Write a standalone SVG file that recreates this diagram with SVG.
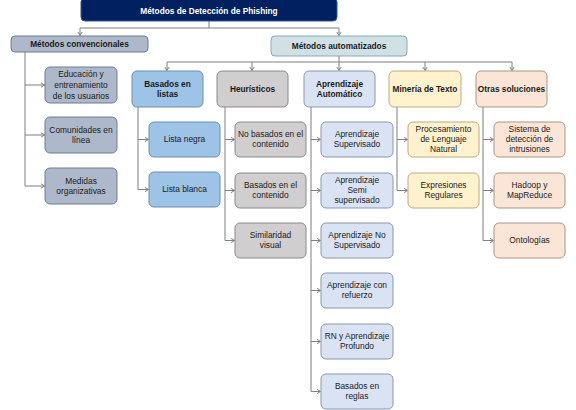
<svg xmlns="http://www.w3.org/2000/svg" width="576" height="410" viewBox="0 0 576 410">
<defs>
<marker id="ar" markerWidth="6" markerHeight="6" refX="4.5" refY="3" orient="auto" markerUnits="userSpaceOnUse">
<path d="M1,0.8 L4.5,3 L1,5.2" fill="none" stroke="#7f7f7f" stroke-width="1"/>
</marker>
</defs>
<style>
text{font-family:"Liberation Sans",Arial,sans-serif;font-size:8.4px;fill:#1a1a1a;text-anchor:middle}
.b{font-weight:bold;font-size:8.3px}
.w{fill:#ffffff}
rect{stroke-width:1}
.title{fill:#002060;stroke:#2f5597}
.conv{fill:#adb9ca;stroke:#6f7d91}
.auto{fill:#d0e1e5;stroke:#8aa7bd}
.lst{fill:#9dc3e6;stroke:#6d8fb0}
.heu{fill:#d0cece;stroke:#8a8888}
.ml{fill:#dae3f3;stroke:#8a97ad}
.tm{fill:#fff2cc;stroke:#b8ab86}
.ot{fill:#fbe5d6;stroke:#a99585}
.c line,.c path{stroke:#7f7f7f;stroke-width:1;fill:none}
</style>

<g id="connectors" class="c">
<path d="M209,21 V28"/>
<path d="M80,28 H339"/>
<line x1="80" y1="28" x2="80" y2="35.5" marker-end="url(#ar)"/>
<line x1="339" y1="28" x2="339" y2="35.5" marker-end="url(#ar)"/>
<path d="M25,52 V186"/>
<line x1="25" y1="85" x2="44.5" y2="85" marker-end="url(#ar)"/>
<line x1="25" y1="135" x2="44.5" y2="135" marker-end="url(#ar)"/>
<line x1="25" y1="186" x2="44.5" y2="186" marker-end="url(#ar)"/>
<path d="M339,56 V62"/>
<path d="M167,62 H512"/>
<line x1="167" y1="62" x2="167" y2="70.5" marker-end="url(#ar)"/>
<line x1="252" y1="62" x2="252" y2="70.5" marker-end="url(#ar)"/>
<line x1="339" y1="62" x2="339" y2="70.5" marker-end="url(#ar)"/>
<line x1="425" y1="62" x2="425" y2="70.5" marker-end="url(#ar)"/>
<line x1="512" y1="62" x2="512" y2="70.5" marker-end="url(#ar)"/>
<path d="M138,107 V189.5"/>
<line x1="138" y1="139.5" x2="148.5" y2="139.5" marker-end="url(#ar)"/>
<line x1="138" y1="189.5" x2="148.5" y2="189.5" marker-end="url(#ar)"/>
<path d="M225,107 V240.5"/>
<line x1="225" y1="139.5" x2="234.5" y2="139.5" marker-end="url(#ar)"/>
<line x1="225" y1="190.5" x2="234.5" y2="190.5" marker-end="url(#ar)"/>
<line x1="225" y1="240.5" x2="234.5" y2="240.5" marker-end="url(#ar)"/>
<path d="M311,107 V391.5"/>
<line x1="311" y1="139.5" x2="320.5" y2="139.5" marker-end="url(#ar)"/>
<line x1="311" y1="190.5" x2="320.5" y2="190.5" marker-end="url(#ar)"/>
<line x1="311" y1="240.5" x2="320.5" y2="240.5" marker-end="url(#ar)"/>
<line x1="311" y1="290.5" x2="320.5" y2="290.5" marker-end="url(#ar)"/>
<line x1="311" y1="341.5" x2="320.5" y2="341.5" marker-end="url(#ar)"/>
<line x1="311" y1="391.5" x2="320.5" y2="391.5" marker-end="url(#ar)"/>
<path d="M397,107 V190.5"/>
<line x1="397" y1="139.5" x2="407.5" y2="139.5" marker-end="url(#ar)"/>
<line x1="397" y1="190.5" x2="407.5" y2="190.5" marker-end="url(#ar)"/>
<path d="M483,107 V240.5"/>
<line x1="483" y1="139.5" x2="493.5" y2="139.5" marker-end="url(#ar)"/>
<line x1="483" y1="190.5" x2="493.5" y2="190.5" marker-end="url(#ar)"/>
<line x1="483" y1="240.5" x2="493.5" y2="240.5" marker-end="url(#ar)"/>
</g>

<g id="n-title"><rect class="title" x="81" y="-2" width="256" height="23" rx="4"/><text class="b w" x="209" y="13.5">Métodos de Detección de Phishing</text></g>

<g id="n-conv"><rect class="conv" x="11" y="36" width="137" height="16" rx="4"/><text class="b" x="79.5" y="47">Métodos convencionales</text></g>
<g id="n-auto"><rect class="auto" x="271" y="36" width="136" height="20" rx="4"/><text class="b" x="339" y="49">Métodos automatizados</text></g>

<g id="n-edu"><rect class="conv" x="45" y="67" width="72" height="36" rx="5"/><text x="81"><tspan x="81" y="76.9">Educación y</tspan><tspan x="81" y="87.9">entrenamiento</tspan><tspan x="81" y="98.9">de los usuarios</tspan></text></g>
<g id="n-com"><rect class="conv" x="45" y="117" width="72" height="36" rx="5"/><text x="81"><tspan x="81" y="132.6">Comunidades en</tspan><tspan x="81" y="143.1">línea</tspan></text></g>
<g id="n-med"><rect class="conv" x="45" y="168" width="72" height="36" rx="5"/><text x="81"><tspan x="81" y="183.6">Medidas</tspan><tspan x="81" y="194.1">organizativas</tspan></text></g>

<g id="n-lst"><rect class="lst" x="132" y="71" width="71" height="36" rx="5"/><text class="b" x="167.5"><tspan x="167.5" y="86.9">Basados en</tspan><tspan x="167.5" y="96.9">listas</tspan></text></g>
<g id="n-heu"><rect class="heu" x="217" y="71" width="71" height="36" rx="5"/><text class="b" x="252.5" y="91.9">Heurísticos</text></g>
<g id="n-ml"><rect class="ml" x="304" y="71" width="71" height="36" rx="5"/><text class="b" x="339.5"><tspan x="339.5" y="86.9">Aprendizaje</tspan><tspan x="339.5" y="96.9">Automático</tspan></text></g>
<g id="n-tm"><rect class="tm" x="389" y="71" width="72" height="36" rx="5"/><text class="b" x="425" y="91.9">Minería de Texto</text></g>
<g id="n-ot"><rect class="ot" x="476" y="71" width="71" height="36" rx="5"/><text class="b" x="511.5" y="91.9">Otras soluciones</text></g>

<g id="n-negra"><rect class="lst" x="149" y="122" width="71" height="35" rx="5"/><text x="184.5" y="142.4">Lista negra</text></g>
<g id="n-blanca"><rect class="lst" x="149" y="172" width="71" height="35" rx="5"/><text x="184.5" y="192.4">Lista blanca</text></g>

<g id="n-nobas"><rect class="heu" x="235" y="122" width="71" height="35" rx="5"/><text x="270.5"><tspan x="270.5" y="137.4">No basados en el</tspan><tspan x="270.5" y="147.4">contenido</tspan></text></g>
<g id="n-bas"><rect class="heu" x="235" y="173" width="71" height="35" rx="5"/><text x="270.5"><tspan x="270.5" y="188.4">Basados en el</tspan><tspan x="270.5" y="198.4">contenido</tspan></text></g>
<g id="n-sim"><rect class="heu" x="235" y="223" width="71" height="35" rx="5"/><text x="270.5"><tspan x="270.5" y="238.4">Similaridad</tspan><tspan x="270.5" y="248.4">visual</tspan></text></g>

<g id="n-sup"><rect class="ml" x="321" y="122" width="72" height="35" rx="5"/><text x="357"><tspan x="357" y="137.4">Aprendizaje</tspan><tspan x="357" y="147.4">Supervisado</tspan></text></g>
<g id="n-semi"><rect class="ml" x="321" y="173" width="72" height="35" rx="5"/><text x="357"><tspan x="357" y="183.4">Aprendizaje</tspan><tspan x="357" y="193.4">Semi</tspan><tspan x="357" y="203.4">supervisado</tspan></text></g>
<g id="n-nosup"><rect class="ml" x="321" y="223" width="72" height="35" rx="5"/><text x="357"><tspan x="357" y="238.4">Aprendizaje No</tspan><tspan x="357" y="248.4">Supervisado</tspan></text></g>
<g id="n-ref"><rect class="ml" x="321" y="273" width="72" height="35" rx="5"/><text x="357"><tspan x="357" y="288.4">Aprendizaje con</tspan><tspan x="357" y="298.4">refuerzo</tspan></text></g>
<g id="n-rn"><rect class="ml" x="321" y="324" width="72" height="35" rx="5"/><text x="357"><tspan x="357" y="339.4">RN y Aprendizaje</tspan><tspan x="357" y="349.4">Profundo</tspan></text></g>
<g id="n-reg"><rect class="ml" x="321" y="374" width="72" height="35" rx="5"/><text x="357"><tspan x="357" y="389.4">Basados en</tspan><tspan x="357" y="399.4">reglas</tspan></text></g>

<g id="n-pln"><rect class="tm" x="408" y="122" width="71" height="35" rx="5"/><text x="443.5"><tspan x="443.5" y="132.4">Procesamiento</tspan><tspan x="443.5" y="142.4">de Lenguaje</tspan><tspan x="443.5" y="152.4">Natural</tspan></text></g>
<g id="n-exp"><rect class="tm" x="408" y="173" width="71" height="35" rx="5"/><text x="443.5"><tspan x="443.5" y="188.4">Expresiones</tspan><tspan x="443.5" y="198.4">Regulares</tspan></text></g>

<g id="n-ids"><rect class="ot" x="494" y="122" width="71" height="35" rx="5"/><text x="529.5"><tspan x="529.5" y="132.4">Sistema de</tspan><tspan x="529.5" y="142.4">detección de</tspan><tspan x="529.5" y="152.4">intrusiones</tspan></text></g>
<g id="n-had"><rect class="ot" x="494" y="173" width="71" height="35" rx="5"/><text x="529.5"><tspan x="529.5" y="188.4">Hadoop y</tspan><tspan x="529.5" y="198.4">MapReduce</tspan></text></g>
<g id="n-ont"><rect class="ot" x="494" y="223" width="71" height="35" rx="5"/><text x="529.5" y="243.4">Ontologías</text></g>
</svg>
